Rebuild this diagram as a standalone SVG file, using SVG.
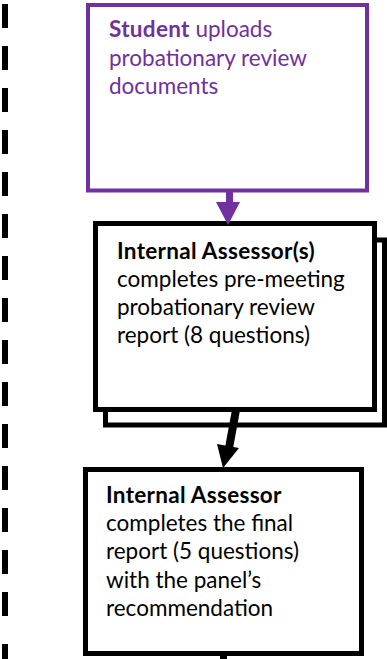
<svg xmlns="http://www.w3.org/2000/svg" width="387" height="659" viewBox="0 0 387 659">
<style>
text{font-family:Lato,"Liberation Sans",sans-serif;font-size:22.5px}
.p{fill:#7030A0}
.k{fill:#000}
.b{font-weight:bold;letter-spacing:0.3px}
.box{fill:#fff;stroke:#000;stroke-width:5}
</style>
<rect width="387" height="659" fill="#fff"/>
<g id="divider">
<line x1="5" y1="4" x2="5" y2="616" stroke="#000" stroke-width="6" stroke-dasharray="24 18"/>
<line x1="5" y1="644" x2="5" y2="659" stroke="#000" stroke-width="6"/>
</g>
<g id="student">
<rect x="88" y="5" width="279" height="185.5" fill="#fff" stroke="#7030A0" stroke-width="4"/>
<text class="p" x="109" y="37"><tspan class="b">Student</tspan> uploads</text>
<text class="p" x="109" y="65.5">probationary review</text>
<text class="p" x="109" y="94">documents</text>
</g>
<g id="internal-assessors">
<rect class="box" x="105.5" y="240" width="279" height="185"/>
<rect class="box" x="95.5" y="223.5" width="279" height="186"/>
<text class="k" x="117" y="259"><tspan class="b">Internal Assessor(s)</tspan></text>
<text class="k" x="117" y="287">completes pre-meeting</text>
<text class="k" x="117" y="315">probationary review</text>
<text class="k" x="117" y="343">report (8 questions)</text>
</g>
<g id="internal-assessor">
<rect class="box" x="85.5" y="469.5" width="276" height="184"/>
<text class="k" x="106" y="503"><tspan class="b">Internal Assessor</tspan></text>
<text class="k" x="106" y="531">completes the final</text>
<text class="k" x="106" y="559">report (5 questions)</text>
<text class="k" x="106" y="588">with the panel’s</text>
<text class="k" x="106" y="616">recommendation</text>
</g>
<g id="connectors">
<line x1="229.5" y1="192" x2="229.5" y2="204" stroke="#7030A0" stroke-width="7"/>
<polygon points="216,202 240,202 228,225" fill="#7030A0"/>
<line x1="236" y1="410" x2="229" y2="448" stroke="#000" stroke-width="8"/>
<polygon points="217,444 239,448 223,468" fill="#000"/>
<line x1="223.5" y1="655" x2="223.5" y2="659" stroke="#000" stroke-width="7"/>
</g>
</svg>
